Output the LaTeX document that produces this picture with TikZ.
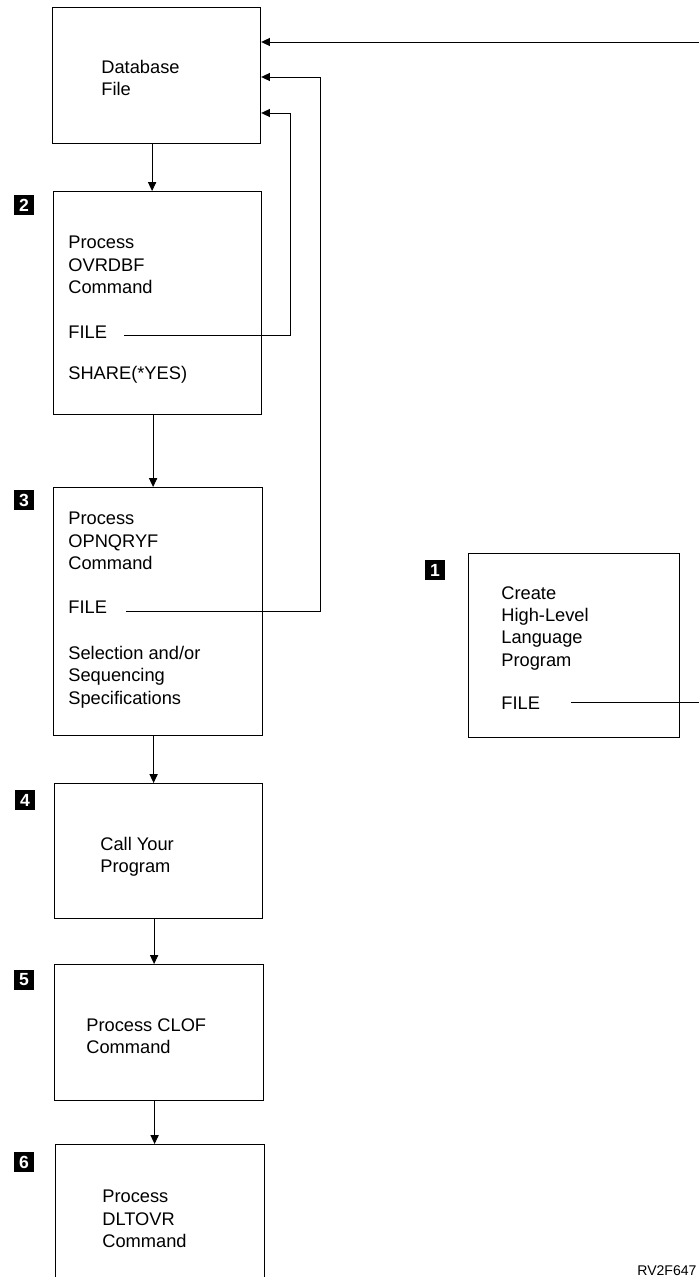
\documentclass[tikz,border=0pt]{standalone}
\usepackage{fontspec}
\setmainfont{Liberation Sans}
\usetikzlibrary{arrows.meta,calc,positioning}
\tikzset{
  box/.style={draw,line width=0.7pt,anchor=north west,inner sep=0pt},
  txt/.style={anchor=north west,inner sep=0pt,align=left,font=\fontsize{10.4pt}{12.7pt}\selectfont},
  badge/.style={fill=black,text=white,inner sep=0pt,minimum width=0.41cm,minimum height=0.39cm,font=\fontsize{10pt}{12pt}\selectfont\bfseries},
  arr/.style={line width=0.5pt,-{Triangle[length=5pt,width=4.6pt]}},
  lnk/.style={line width=0.5pt}
}

\begin{document}
\begin{tikzpicture}[x=0.02cm,y=-0.02cm]
\useasboundingbox (0,0) rectangle (699,1277);
\clip (0,0) rectangle (699,1277);
\node[box,minimum width=4.16cm,minimum height=2.72cm] (db) at (52,7) {};
\node[box,minimum width=4.16cm,minimum height=4.46cm] (b2) at (53,191) {};
\node[box,minimum width=4.18cm,minimum height=4.96cm] (b3) at (53,487) {};
\node[box,minimum width=4.16cm,minimum height=2.70cm] (b4) at (54,783) {};
\node[box,minimum width=4.18cm,minimum height=2.72cm] (b5) at (54,964) {};
\node[box,minimum width=4.18cm,minimum height=3.12cm] (b6) at (55,1144) {};
\node[box,minimum width=4.22cm,minimum height=3.68cm] (b1) at (468,553) {};
\node[badge] (n1) at ($(b1.north west)+(-33,17)$) {1};
\node[badge] (n2) at ($(b2.north west)+(-29,14)$) {2};
\node[badge] (n3) at ($(b3.north west)+(-29,13)$) {3};
\node[badge] (n4) at ($(b4.north west)+(-29,17)$) {4};
\node[badge] (n5) at ($(b5.north west)+(-30,16)$) {5};
\node[badge] (n6) at ($(b6.north west)+(-31,18)$) {6};
\node[txt] (tdb) at (101,60) {Database\\File};
\node[txt] (t2) at (68,236) {Process\\OVRDBF\\Command};
\node[txt] (f2) at (68,326) {FILE};
\node[txt] (s2) at (68,366) {SHARE(*YES)};
\node[txt] (t3) at (68,512) {Process\\OPNQRYF\\Command};
\node[txt] (f3) at (68,601) {FILE};
\node[txt] (s3) at (68,646) {Selection and/or\\Sequencing\\Specifications};
\node[txt] (t1) at (501,586) {Create\\High-Level\\Language\\Program};
\node[txt] (f1) at (501,697) {FILE};
\node[txt] (t4) at (100,837) {Call Your\\Program};
\node[txt] (t5) at (86,1018) {Process CLOF\\Command};
\node[txt] (t6) at (102,1190) {Process\\DLTOVR\\Command};
\node[txt,font=\fontsize{8pt}{9.6pt}\selectfont] (ref) at (637,1265) {RV2F647};
\foreach \a/\b in {db/b2,b2/b3,b3/b4,b4/b5,b5/b6}
  \draw[arr] ([xshift=-0.09cm]\a.south) -- ([xshift=-0.09cm]\a.south |- \b.north);
\coordinate (k2) at (290,113);
\coordinate (k3) at (320,77);
\coordinate (k1) at (720,42);
\draw[arr] ($(f2.base east)+(17,-3)$) -| (k2) -- (k2 -| db.east);
\draw[arr] ($(f3.base east)+(19,-2)$) -| (k3) -- (k3 -| db.east);
\draw[arr] ($(f1.base east)+(31,-7)$) -| (k1) -- (k1 -| db.east);
\end{tikzpicture}
\end{document}
